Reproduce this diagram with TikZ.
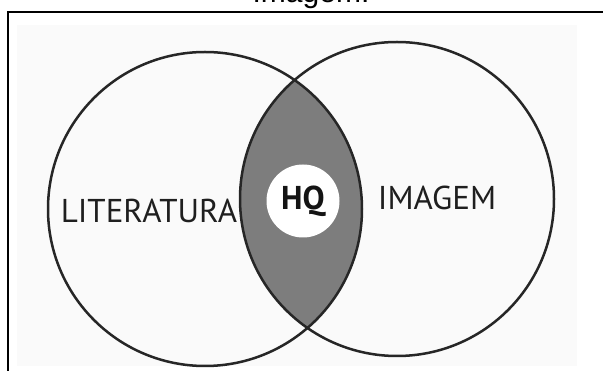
\documentclass[tikz,border=0pt]{standalone}
\usepackage{fontspec}
\setmainfont{Liberation Sans}
\newfontfamily\labelfont{PT Sans}
\usetikzlibrary{positioning}

\definecolor{ringcol}{HTML}{262626}
\definecolor{lensgray}{HTML}{7D7D7D}
\definecolor{photobg}{HTML}{FAFAFA}

\tikzset{
  ring/.style={draw=ringcol, line width=2.5pt},
  setlabel/.style={font=\labelfont\fontsize{33}{33}\selectfont, text=black!88, anchor=base, inner sep=0pt},
  hqdisc/.style={circle, fill=white, minimum size=73pt, inner sep=0pt,
                 font=\labelfont\bfseries\fontsize{33}{33}\selectfont, text=black!92},
  caption/.style={font=\fontsize{30}{30}\selectfont, anchor=base, inner sep=0pt}
}

\begin{document}
\begin{tikzpicture}[x=1pt,y=-1pt]
  \clip (0,0) rectangle (603,371);
  \fill[white] (0,0) rectangle (603,371);

  % caption line above the figure frame
  \node[caption] (cap) at (311,3) {Imagem.};

  % frame and figure background
  \fill[photobg] (17,25) rectangle (577,366);
  \draw[line width=2pt] (8,12) rectangle (640,400);

  % the two sets
  \coordinate (cl) at (205,209);
  \coordinate (cr) at (397,199);
  \begin{scope}
    \clip (cl) circle (157pt);
    \fill[lensgray] (cr) circle (157pt);
  \end{scope}
  \draw[ring] (cl) circle (157pt);
  \draw[ring] (cr) circle (157pt);

  % labels
  \node[setlabel] (lit) at (149,223) {LITERATURA};
  \node[setlabel] (img) at (437,210) {IMAGEM};
  \node[hqdisc] (hq) at (303,201) {HQ};
\end{tikzpicture}
\end{document}
